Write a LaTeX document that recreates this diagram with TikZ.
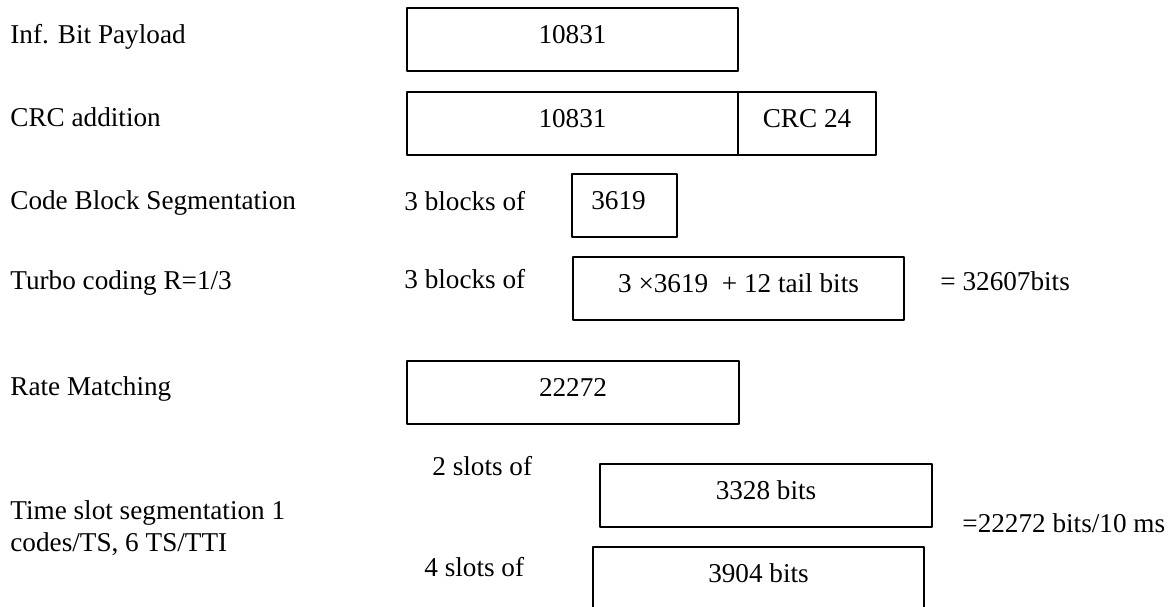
\documentclass[tikz,border=0pt]{standalone}
\usepackage{fontspec}
\setmainfont{Liberation Serif}
\begin{document}
\begin{tikzpicture}[x=0.5pt,y=-0.5pt,line join=round,font=\fontsize{13.6}{16}\selectfont]
	\clip (0,0) rectangle (1171,606);
	\tikzset{
		blk/.style={draw,line width=0.6pt,anchor=north west,outer sep=0pt,inner sep=0pt,
			minimum height=31.5pt,text height=9pt,text depth=5.5pt},
		lbl/.style={anchor=base west,inner sep=0pt}
	}
	% step names on the left
	\node[lbl] (payload) at (10,43) {Inf. Bit Payload};
	\node[lbl] (crc) at (10,126) {CRC addition};
	\node[lbl] (cbs) at (10,209) {Code Block Segmentation};
	\node[lbl] (turbo) at (10,289) {Turbo coding R=1/3};
	\node[lbl] (rm) at (10,395) {Rate Matching};
	\node[lbl,align=left] (tss) at (10,551) {Time slot segmentation 1\\codes/TS, 6 TS/TTI};
	% blocks
	\node[blk,minimum width=165.5pt] (payloadbox) at (407,8) {10831};
	\node[blk,minimum width=165.5pt] (crcdata) at (407,92) {10831};
	\node[blk,minimum width=69pt] (crcbits) at (738,92) {CRC 24};
	\node[lbl] (cbsof) at (404,210) {3 blocks of};
	\node[blk,minimum width=52.5pt] (cbsbox) at (572,174) {\hspace*{-6pt}3619};
	\node[lbl] (turboof) at (404,288) {3 blocks of};
	\node[blk,minimum width=165.5pt] (turbobox) at (573,257) {3 ×3619\ \ + 12 tail bits};
	\node[lbl] (turbosum) at (940,290) {= 32607bits};
	\node[blk,minimum width=166pt] (rmbox) at (407,361) {22272};
	\node[lbl] (slotsa) at (432,475) {2 slots of};
	\node[blk,minimum width=166pt] (slotabox) at (600,464) {3328 bits};
	\node[lbl] (slotsb) at (424,576) {4 slots of};
	\node[blk,minimum width=165.5pt] (slotbbox) at (593,547) {3904 bits};
	\node[lbl] (slotsum) at (962,532) {=22272 bits/10 ms};
\end{tikzpicture}
\end{document}
